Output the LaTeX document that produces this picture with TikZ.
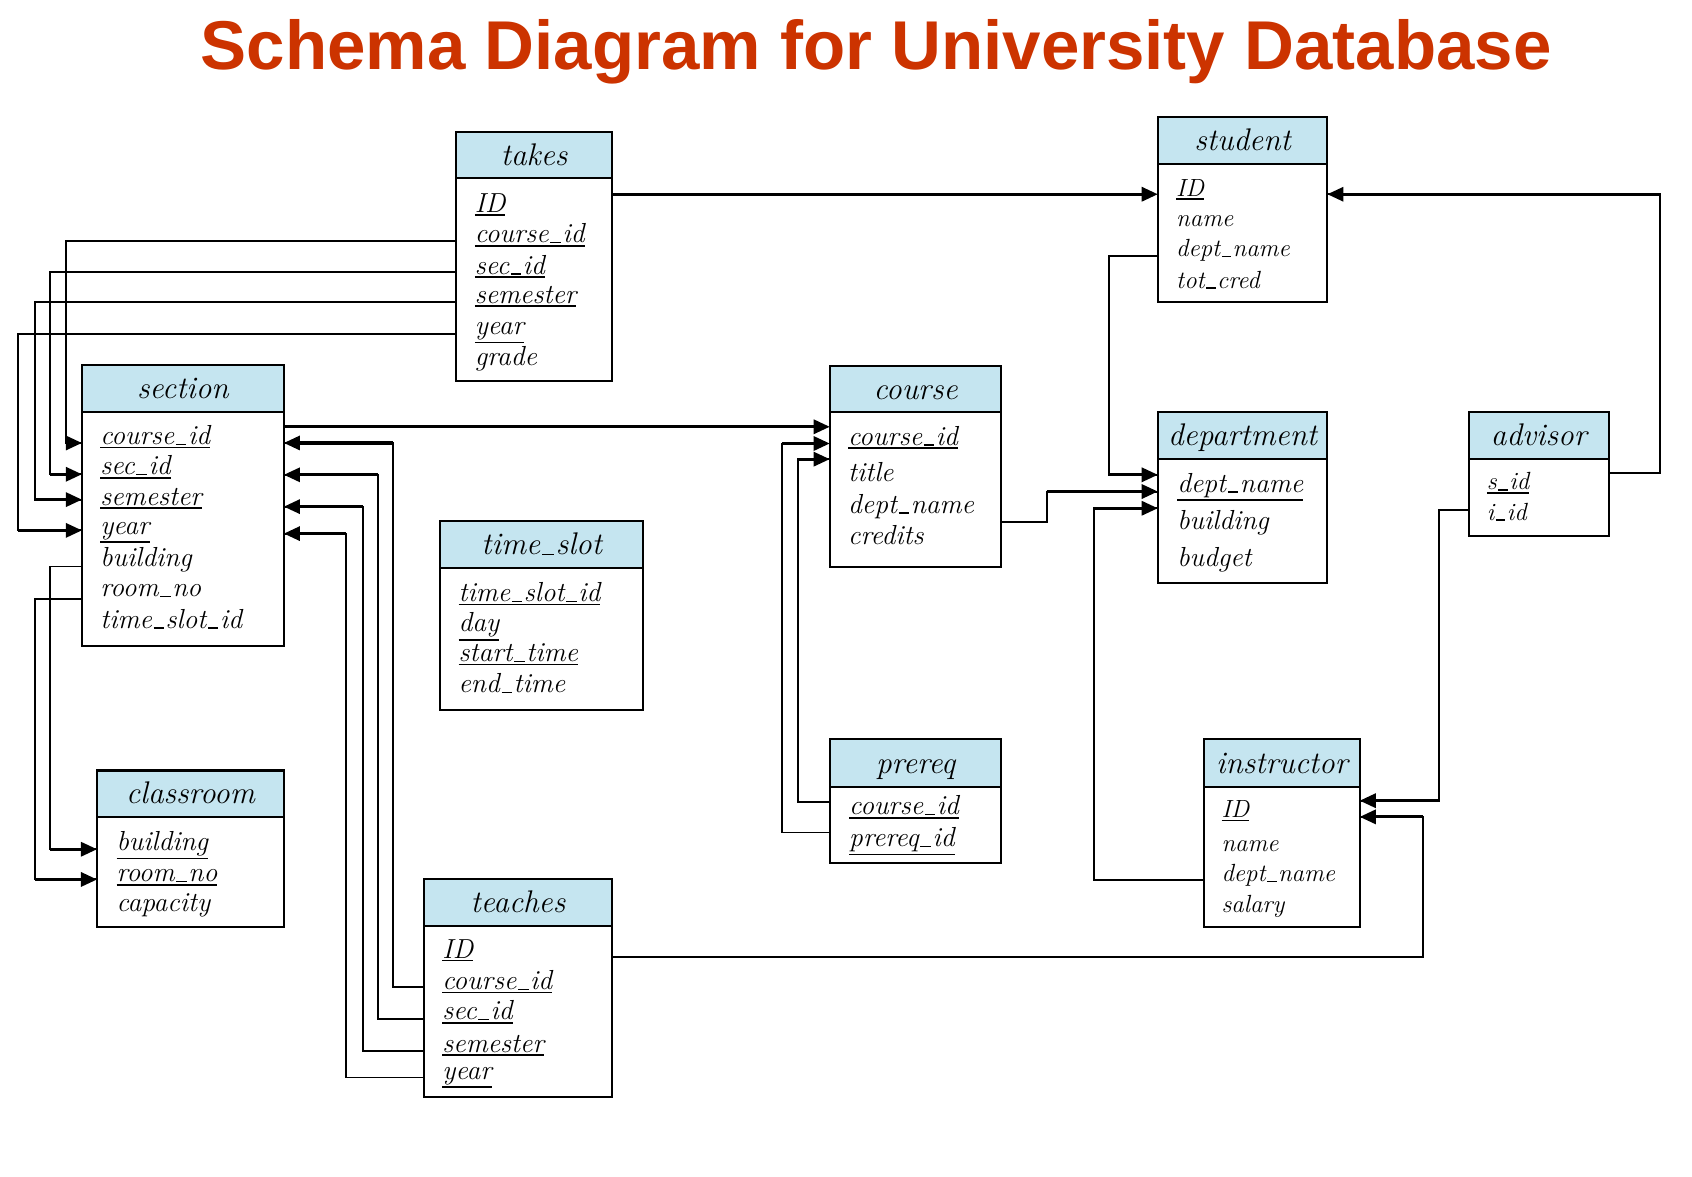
\documentclass[tikz,border=0pt]{standalone}
\usepackage{fontspec}
\newfontfamily\titlefont{Liberation Sans}
\usetikzlibrary{arrows.meta}
\definecolor{hdrblue}{RGB}{197,229,240}
\definecolor{titlered}{RGB}{204,51,0}
\newcommand{\pk}[1]{\setbox0=\hbox{#1}\rlap{\raisebox{\dimexpr-\dp0-3pt\relax}{\rule{\wd0}{1.5pt}}}\box0}
\newcommand{\us}{\kern0.06em\rule[-0.6pt]{0.38em}{1.2pt}\kern0.06em}
\newcommand{\tbox}[7]{%
  \node[tbody, minimum width={#3-#2}, minimum height={#6-#4}] (#1) at (#2,#4) {};
  \node[thead, minimum width={#3-#2}, minimum height={#5-#4}] (#1-h) at (#2,#4) {#7};}
\newcommand{\rw}[5]{\node[#1] (#2) at (#3,#4) {#5};}
\newcommand{\lnk}[3]{\draw[cn] (#1) -| (#2) -- (#3); \draw[cnh] (#2) -- (#3);}
\tikzset{
  tbody/.style={draw, line width=1.9pt, fill=white, anchor=north west, inner sep=0pt, outer sep=0pt},
  thead/.style={draw, line width=1.9pt, fill=hdrblue, anchor=north west, inner sep=0pt, outer sep=0pt,
     font=\fontsize{29}{32}\selectfont\itshape, text height=24pt, text depth=5pt},
  rowa/.style={anchor=base west, inner sep=0pt, outer sep=0pt, font=\fontsize{25.5}{30}\selectfont\itshape},
  rowb/.style={anchor=base west, inner sep=0pt, outer sep=0pt, font=\fontsize{23}{28}\selectfont\itshape},
  cn/.style={line width=1.8pt},
  cnh/.style={line width=2.9pt, -{Triangle[length=15pt,width=13pt]}},
  thk/.style={line width=3pt, -{Triangle[length=15pt,width=13pt]}},
}
\begin{document}
\begin{tikzpicture}[x=1pt,y=-1pt]
\fill[white] (0,0) rectangle (1568,1090);
\useasboundingbox (0,0) rectangle (1568,1090);

\node[font=\fontsize{64}{70}\titlefont\bfseries, text=titlered, anchor=base, inner sep=0pt] (title) at (812,64) {Schema Diagram for University Database};

% tables
\tbox{takes}{423}{567}{122}{165}{353}{takes}
\tbox{student}{1073}{1230}{108}{152}{280}{student}
\tbox{section}{76}{263}{338}{382}{599}{section}
\tbox{course}{769}{928}{339}{382}{525}{course}
\tbox{dept}{1073}{1230}{382}{425}{540}{department}
\tbox{advisor}{1361}{1491}{382}{425}{497}{advisor}
\tbox{timeslot}{408}{596}{483}{526}{658}{time\us slot}
\tbox{classroom}{90}{263}{714}{757}{859}{classroom}
\tbox{prereq}{769}{928}{685}{729}{800}{prereq}
\tbox{instructor}{1116}{1260}{685}{729}{859}{instructor}
\tbox{teaches}{393}{567}{815}{858}{1017}{teaches}

% takes rows
\rw{rowa}{tk1}{440}{197}{\pk{ID}}
\rw{rowa}{tk2}{440}{225}{\pk{course\us id}}
\rw{rowa}{tk3}{440}{254}{\pk{sec\us id}}
\rw{rowa}{tk4}{440}{281}{\pk{semester}}
\rw{rowa}{tk5}{440}{310}{\pk{year}}
\rw{rowa}{tk6}{440}{339}{grade}
% student rows
\rw{rowb}{st1}{1090}{182}{\pk{ID}}
\rw{rowb}{st2}{1090}{210}{name}
\rw{rowb}{st3}{1090}{238}{dept\us name}
\rw{rowb}{st4}{1090}{267}{tot\us cred}
% section rows
\rw{rowa}{se1}{93}{412}{\pk{course\us id}}
\rw{rowa}{se2}{93}{440}{\pk{sec\us id}}
\rw{rowa}{se3}{93}{468}{\pk{semester}}
\rw{rowa}{se4}{93}{495}{\pk{year}}
\rw{rowa}{se5}{93}{525}{building}
\rw{rowa}{se6}{93}{553}{room\us no}
\rw{rowa}{se7}{93}{582}{time\us slot\us id}
% course rows
\rw{rowa}{co1}{786}{412.5}{\pk{course\us id}}
\rw{rowa}{co2}{786}{446}{title}
\rw{rowa}{co3}{786}{475.5}{dept\us name}
\rw{rowa}{co4}{786}{505}{credits}
% department rows
\rw{rowa}{de1}{1091}{456}{\pk{dept\us name}}
\rw{rowa}{de2}{1091}{491}{building}
\rw{rowa}{de3}{1091}{525}{budget}
% advisor rows
\rw{rowb}{ad1}{1378}{454}{\pk{s\us id}}
\rw{rowb}{ad2}{1378}{482}{i\us id}
% time_slot rows
\rw{rowa}{ts1}{425}{557.5}{\pk{time\us slot\us id}}
\rw{rowa}{ts2}{425}{585.5}{\pk{day}}
\rw{rowa}{ts3}{425}{613}{\pk{start\us time}}
\rw{rowa}{ts4}{425}{642}{end\us time}
% classroom rows
\rw{rowa}{cl1}{108}{788}{\pk{building}}
\rw{rowa}{cl2}{108}{817}{\pk{room\us no}}
\rw{rowa}{cl3}{108}{845}{capacity}
% prereq rows
\rw{rowa}{pr1}{787}{755}{\pk{course\us id}}
\rw{rowa}{pr2}{787}{784.5}{\pk{prereq\us id}}
% instructor rows
\rw{rowb}{in1}{1132}{758}{\pk{ID}}
\rw{rowb}{in2}{1132}{789}{name}
\rw{rowb}{in3}{1132}{817}{dept\us name}
\rw{rowb}{in4}{1132}{846}{salary}
% teaches rows
\rw{rowa}{te1}{410}{888}{\pk{ID}}
\rw{rowa}{te2}{410}{917}{\pk{course\us id}}
\rw{rowa}{te3}{410}{945}{\pk{sec\us id}}
\rw{rowa}{te4}{410}{975}{\pk{semester}}
\rw{rowa}{te5}{410}{1000}{\pk{year}}

% ports
\coordinate (p1a) at (takes.east |- 0,180);
\coordinate (p1b) at (student.west |- 0,180);
\coordinate (p2a) at (takes.west |- 0,223);
\coordinate (p2b) at (section.west |- 0,410.5);
\coordinate (b2) at (61,410.5);
\coordinate (p3a) at (takes.west |- 0,252);
\coordinate (p3b) at (section.west |- 0,439.5);
\coordinate (b3) at (46.5,439.5);
\coordinate (p4a) at (takes.west |- 0,280);
\coordinate (p4b) at (section.west |- 0,463);
\coordinate (b4) at (32,463);
\coordinate (p5a) at (takes.west |- 0,309.5);
\coordinate (p5b) at (section.west |- 0,491.5);
\coordinate (b5) at (17,491.5);
\coordinate (p6a) at (section.east |- 0,395.5);
\coordinate (p6b) at (course.west |- 0,395.5);
\coordinate (p7a) at (teaches.west |- 0,915);
\coordinate (p7b) at (section.east |- 0,410.5);
\coordinate (b7) at (364,410.5);
\coordinate (p8a) at (teaches.west |- 0,944.5);
\coordinate (p8b) at (section.east |- 0,440);
\coordinate (b8) at (350.5,440);
\coordinate (p9a) at (teaches.west |- 0,974);
\coordinate (p9b) at (section.east |- 0,469.5);
\coordinate (b9) at (336,469.5);
\coordinate (p10a) at (teaches.west |- 0,998.5);
\coordinate (p10b) at (section.east |- 0,494.5);
\coordinate (b10) at (321,494.5);
\coordinate (p11a) at (section.west |- 0,525);
\coordinate (p11b) at (classroom.west |- 0,787);
\coordinate (b11) at (46.5,787);
\coordinate (p12a) at (section.west |- 0,555);
\coordinate (p12b) at (classroom.west |- 0,815);
\coordinate (b12) at (32,815);
\coordinate (p13a) at (course.east |- 0,483.5);
\coordinate (p13b) at (dept.west |- 0,455.5);
\coordinate (b13) at (970,455.5);
\coordinate (p14a) at (student.west |- 0,237.5);
\coordinate (p14b) at (dept.west |- 0,440);
\coordinate (b14) at (1028,440);
\coordinate (p15a) at (instructor.west |- 0,815.5);
\coordinate (p15b) at (dept.west |- 0,471);
\coordinate (b15) at (1014,471);
\coordinate (p16a) at (prereq.west |- 0,743);
\coordinate (p16b) at (course.west |- 0,425.5);
\coordinate (b16) at (739.5,425.5);
\coordinate (p17a) at (prereq.west |- 0,771.5);
\coordinate (p17b) at (course.west |- 0,411);
\coordinate (b17) at (725,411);
\coordinate (p18a) at (advisor.east |- 0,438.5);
\coordinate (p18b) at (student.east |- 0,180);
\coordinate (b18) at (1538,180);
\coordinate (p19a) at (advisor.west |- 0,473);
\coordinate (p19b) at (instructor.east |- 0,742);
\coordinate (b19) at (1333.5,742);
\coordinate (p20a) at (teaches.east |- 0,887);
\coordinate (p20b) at (instructor.east |- 0,757);
\coordinate (b20) at (1318.5,757);

% connectors
\draw[thk] (p1a) -- (p1b);
\lnk{p2a}{b2}{p2b}
\lnk{p3a}{b3}{p3b}
\lnk{p4a}{b4}{p4b}
\lnk{p5a}{b5}{p5b}
\draw[thk] (p6a) -- (p6b);
\lnk{p7a}{b7}{p7b}
\lnk{p8a}{b8}{p8b}
\lnk{p9a}{b9}{p9b}
\lnk{p10a}{b10}{p10b}
\lnk{p11a}{b11}{p11b}
\lnk{p12a}{b12}{p12b}
\lnk{p13a}{b13}{p13b}
\lnk{p14a}{b14}{p14b}
\lnk{p15a}{b15}{p15b}
\lnk{p16a}{b16}{p16b}
\lnk{p17a}{b17}{p17b}
\lnk{p18a}{b18}{p18b}
\lnk{p19a}{b19}{p19b}
\lnk{p20a}{b20}{p20b}
\end{tikzpicture}
\end{document}
